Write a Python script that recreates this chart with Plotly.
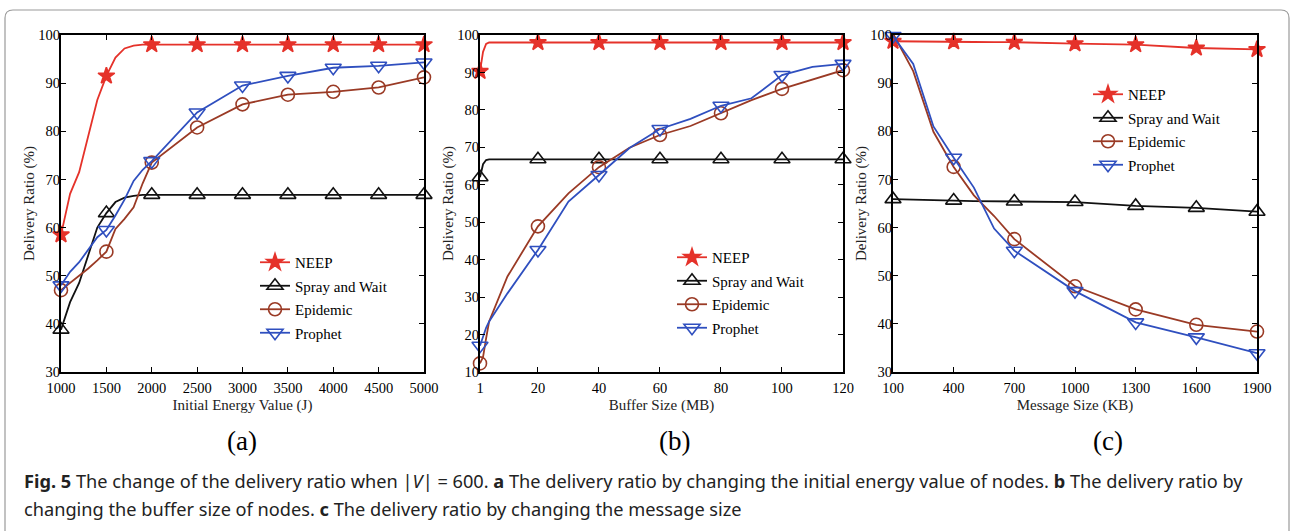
import plotly.graph_objects as go

# ---------------- data ----------------
series_names = ["NEEP", "Spray and Wait", "Epidemic", "Prophet"]

# (a) Initial energy value
energy_x = [1000, 1100, 1200, 1300, 1400, 1500, 1600, 1700, 1800, 1900, 2000,
            2500, 3000, 3500, 4000, 4500, 5000]
energy_ticks = [1000, 1500, 2000, 2500, 3000, 3500, 4000, 4500, 5000]
neep_energy = [58.5, 67.0, 71.5, 79.0, 86.5, 91.5, 95.3, 97.2, 97.8, 98.0, 98.0,
               98.0, 98.0, 98.0, 98.0, 98.0, 98.0]
spray_energy = [38.8, 44.5, 48.5, 54.5, 60.0, 63.0, 65.3, 66.2, 66.6, 66.8, 66.8,
                66.8, 66.8, 66.8, 66.8, 66.8, 66.8]
epidemic_energy = [47.0, 48.5, 50.0, 51.5, 53.2, 55.0, 59.7, 61.8, 64.2, 69.2, 73.5,
                   80.8, 85.6, 87.6, 88.2, 89.1, 91.2]
prophet_energy = [48.0, 50.8, 52.8, 55.5, 58.0, 59.5, 62.5, 65.8, 69.7, 72.0, 73.8,
                  83.9, 89.5, 91.5, 93.2, 93.6, 94.3]

# (b) Buffer size
buffer_x = [1, 2, 3, 4, 10, 20, 30, 40, 50, 60, 70, 80, 90, 100, 110, 120]
buffer_ticks = [1, 20, 40, 60, 80, 100, 120]
neep_buffer = [90.3, 95.5, 97.6, 98.0, 98.0, 98.0, 98.0, 98.0, 98.0, 98.0, 98.0,
               98.0, 98.0, 98.0, 98.0, 98.0]
spray_buffer = [62.0, 65.5, 66.6, 66.8, 66.8, 66.8, 66.8, 66.8, 66.8, 66.8, 66.8,
                66.8, 66.8, 66.8, 66.8, 66.8]
epidemic_buffer = [12.3, 14.0, 19.0, 23.5, 35.5, 48.9, 57.7, 64.7, 69.9, 73.3, 75.7,
                   79.1, 82.6, 85.6, 88.1, 90.6]
prophet_buffer = [17.0, 19.5, 21.8, 23.5, 31.0, 42.6, 55.5, 62.6, 69.8, 74.9, 77.6,
                  81.1, 83.1, 89.3, 91.5, 92.3]

# (c) Message size
message_x = [100, 200, 300, 400, 500, 600, 700, 1000, 1300, 1600, 1900]
message_ticks = [100, 400, 700, 1000, 1300, 1600, 1900]
neep_message = [98.7, 98.7, 98.65, 98.6, 98.55, 98.5, 98.5, 98.2, 98.0, 97.3, 97.0]
spray_message = [65.9, 65.85, 65.8, 65.6, 65.5, 65.45, 65.4, 65.3, 64.5, 64.1, 63.3]
epidemic_message = [100.3, 92.5, 79.9, 72.6, 66.7, 62.4, 57.6, 47.8, 43.0, 39.8, 38.4]
prophet_message = [99.8, 94.0, 81.0, 74.5, 68.3, 59.8, 55.2, 46.8, 40.3, 37.2, 33.9]

y_ticks = list(range(10, 101, 10))

# ---------------- styles ----------------
colors = ["#e5322a", "#111111", "#9a3a25", "#2f4fbf"]
symbols = ["star", "triangle-up-open", "circle-open", "triangle-down-open"]
sizes = [12.5, 14, 13, 14]
SERIF = "Liberation Serif"

fig = go.Figure()

panels = [
    (energy_x, energy_ticks, [neep_energy, spray_energy, epidemic_energy, prophet_energy], "x", "y", "legend"),
    (buffer_x, buffer_ticks, [neep_buffer, spray_buffer, epidemic_buffer, prophet_buffer], "x2", "y2", "legend2"),
    (message_x, message_ticks, [neep_message, spray_message, epidemic_message, prophet_message], "x3", "y3", "legend3"),
]

for pi, (xs, major, ys_list, xa, ya, lg) in enumerate(panels):
    for si, ys in enumerate(ys_list):
        col = colors[si]
        mcols = [col if x in major else "rgba(0,0,0,0)" for x in xs]
        fig.add_trace(go.Scatter(
            x=xs, y=ys, name=series_names[si], mode="lines+markers",
            xaxis=xa, yaxis=ya, legend=lg, legendgroup=f"{pi}-{si}",
            line=dict(color=col, width=1.8),
            marker=dict(symbol=symbols[si], size=sizes[si], color=mcols,
                        line=dict(color=mcols, width=1.6)),
            cliponaxis=False, hoverinfo="x+y+name",
        ))

W, H = 1291, 531
def px_x(p):
    return p / W
def px_y(p):
    return 1 - p / H

y_dom = [px_y(372), px_y(35)]
x_doms = [[px_x(61), px_x(424)], [px_x(480), px_x(843)], [px_x(893), px_x(1257)]]
x_titles = ["Initial Energy Value (J)", "Buffer Size (MB)", "Message Size (KB)"]
x_ranges = [[1000, 5000], [1, 120], [100, 1900]]
y_ranges = [[30, 100], [10, 100], [30, 100]]
tick_sets = [energy_ticks, buffer_ticks, message_ticks]

axis_common = dict(
    showline=True, linewidth=2, linecolor="black", mirror="allticks",
    ticks="inside", ticklen=5, tickwidth=1.2, tickcolor="black",
    showgrid=False, zeroline=False, automargin=False,
    tickfont=dict(family=SERIF, size=14.5, color="black"),
)

layout = dict(
    width=W, height=H, margin=dict(l=0, r=0, t=0, b=0, autoexpand=False),
    paper_bgcolor="white", plot_bgcolor="white",
    showlegend=True,
)
for i in range(3):
    sfx = "" if i == 0 else str(i + 1)
    layout["xaxis" + sfx] = dict(
        axis_common, domain=x_doms[i], range=x_ranges[i], tickvals=tick_sets[i],
        anchor="y" + sfx, ticklabelstandoff=2,
        title=dict(text=x_titles[i], font=dict(family=SERIF, size=15, color="#222"), standoff=4),
    )
    layout["yaxis" + sfx] = dict(
        axis_common, domain=y_dom, range=y_ranges[i], tickvals=y_ticks,
        anchor="x" + sfx, ticklabelstandoff=-4,
        title=dict(text="Delivery Ratio (%)", font=dict(family=SERIF, size=15, color="#222"), standoff=0),
    )

legend_common = dict(
    font=dict(family=SERIF, size=15, color="black"),
    bgcolor="rgba(0,0,0,0)", borderwidth=0, traceorder="grouped",
    tracegroupgap=1, xanchor="left", yanchor="top",
)
layout["legend"] = dict(legend_common, x=px_x(255), y=px_y(246))
layout["legend2"] = dict(legend_common, x=px_x(672), y=px_y(241))
layout["legend3"] = dict(legend_common, x=px_x(1088), y=px_y(78))

fig.update_layout(**layout)

# panel labels
for lab, cx in [("(a)", 242), ("(b)", 674), ("(c)", 1108)]:
    fig.add_annotation(text=lab, x=px_x(cx), y=px_y(441), xref="paper", yref="paper",
                       xanchor="center", yanchor="middle",
                       showarrow=False, font=dict(family=SERIF, size=27, color="black"))

CAP = "Noto Sans"
fig.add_annotation(
    text="<b>Fig. 5</b> The change of the delivery ratio when |<i>V</i>| = 600. <b>a</b> The delivery ratio by changing the initial energy value of nodes. <b>b</b> The delivery ratio by",
    x=px_x(22), y=px_y(481), xref="paper", yref="paper", xanchor="left", yanchor="middle",
    showarrow=False, font=dict(family=CAP, size=18.2, color="#222"))
fig.add_annotation(
    text="changing the buffer size of nodes. <b>c</b> The delivery ratio by changing the message size",
    x=px_x(22), y=px_y(509), xref="paper", yref="paper", xanchor="left", yanchor="middle",
    showarrow=False, font=dict(family=CAP, size=18.2, color="#222"))

# frame around figure (rounded top corners)
x0, x1 = px_x(5), px_x(1289)
yt, yb = px_y(10), -0.05
rx, ry = 8 / W, 8 / H
path = (f"M{x0},{yb} L{x0},{yt - ry} Q{x0},{yt} {x0 + rx},{yt} "
        f"L{x1 - rx},{yt} Q{x1},{yt} {x1},{yt - ry} L{x1},{yb}")
fig.add_shape(type="path", path=path, xref="paper", yref="paper",
              line=dict(color="#9a9a9a", width=1.2))

fig.write_html("out.html", config={"displayModeBar": False},
               post_script="document.body.style.margin='0';")
